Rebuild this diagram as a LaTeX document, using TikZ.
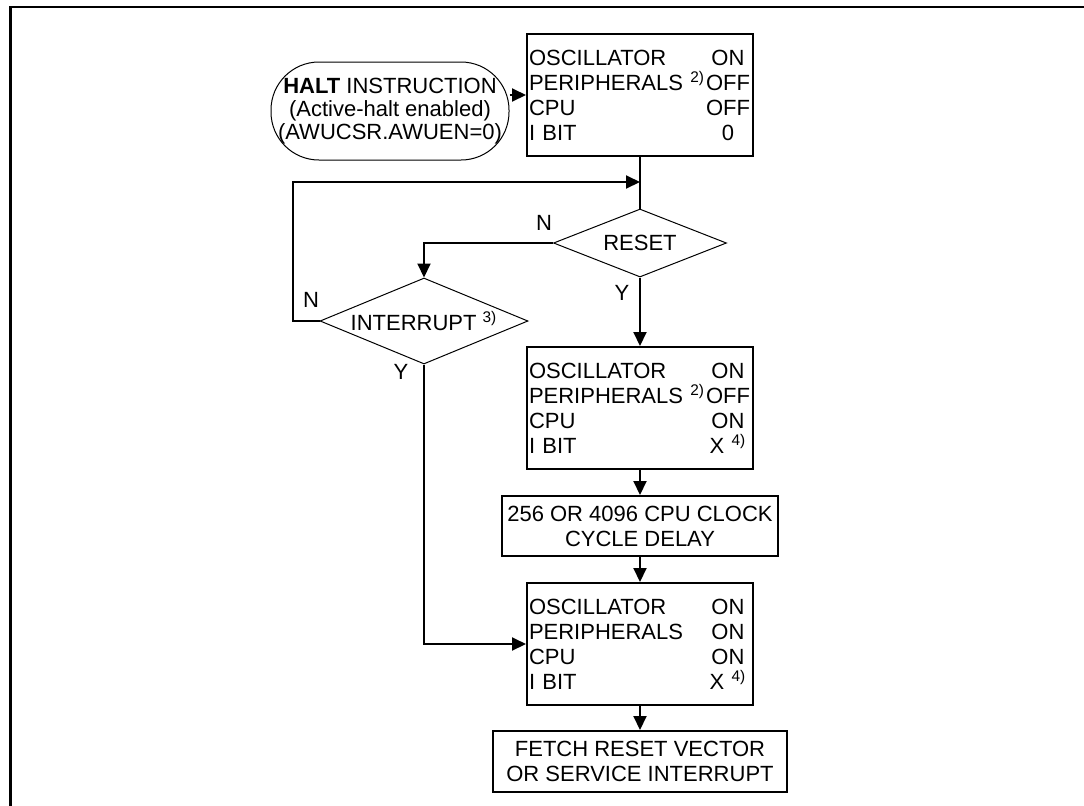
\documentclass[tikz,border=0pt]{standalone}
\usepackage{fontspec}
\setmainfont{Liberation Sans}
\usetikzlibrary{shapes.geometric,arrows.meta}
\newcommand{\staterow}[2]{\makebox[88pt][l]{#1}\makebox[23pt][c]{#2}}

\begin{document}
\begin{tikzpicture}[x=5pt,y=-5pt,>={Triangle[length=7pt,width=6.5pt]},
    font=\fontsize{11}{12.5}\selectfont,
    statebox/.style={rectangle,draw,line width=1pt,minimum width=113pt,minimum height=61pt,text width=111pt,inner xsep=1pt,align=left},
    textbox/.style={rectangle,draw,line width=1pt,align=center,inner sep=1pt},
    decision/.style={diamond,draw,line width=0.5pt,inner sep=0pt},
    flow/.style={line width=1pt}]
    \useasboundingbox (0,0) rectangle (108.4,80.5);
    \draw[line width=1.4pt] (108.8,0.7) -- (1.03,0.7) -- (1.03,80.8);
    \node (halt) at (39.0,11.1) [rectangle,draw,line width=0.5pt,rounded corners=24pt,minimum width=119pt,minimum height=49pt,inner sep=0pt,align=center,font=\fontsize{11}{11.5}\selectfont] {\textbf{HALT} INSTRUCTION\\(Active-halt enabled)\\(AWUCSR.AWUEN=0)};
    \node (box1) at (64.0,9.5) [statebox] {\staterow{OSCILLATOR}{ON}\\\staterow{PERIPHERALS \textsuperscript{2)}}{OFF}\\\staterow{CPU}{OFF}\\\staterow{I BIT}{0}};
    \node (reset) at (64.0,24.3) [decision,minimum width=86.5pt,minimum height=34pt,aspect=2.54] {RESET};
    \node (interrupt) at (42.4,32.1) [decision,minimum width=104pt,minimum height=43pt,aspect=2.42] {INTERRUPT \textsuperscript{3)}};
    \node (box2) at (64.0,40.8) [statebox] {\staterow{OSCILLATOR}{ON}\\\staterow{PERIPHERALS \textsuperscript{2)}}{OFF}\\\staterow{CPU}{ON}\\\staterow{I BIT}{X \textsuperscript{4)}}};
    \node (delay) at (64.0,52.6) [textbox,minimum width=138pt,minimum height=30pt] {256 OR 4096 CPU CLOCK\\CYCLE DELAY};
    \node (box3) at (64.0,64.4) [statebox] {\staterow{OSCILLATOR}{ON}\\\staterow{PERIPHERALS}{ON}\\\staterow{CPU}{ON}\\\staterow{I BIT}{X \textsuperscript{4)}}};
    \node (fetch) at (64.0,76.15) [textbox,minimum width=147pt,minimum height=30.5pt] {FETCH RESET VECTOR\\OR SERVICE INTERRUPT};
    \coordinate (merge) at (64.0,18.2);
    \node (resetno) at (54.4,22.3) {N};
    \node (resetyes) at (62.2,29.3) {Y};
    \node (intno) at (31.1,30.0) {N};
    \node (intyes) at (40.1,37.2) {Y};
    \draw[flow,->] (halt.east |- box1.west) -- (box1.west);
    \draw[flow]    (box1) -- (reset);
    \draw[flow,->] (reset.west) -| (interrupt.north);
    \draw[flow,->] (reset) -- (box2);
    \draw[flow,->] (interrupt.west) -- ++(-2.7,0) |- (merge);
    \draw[flow,->] (interrupt.south) |- (box3.west);
    \draw[flow,->] (box2) -- (delay);
    \draw[flow,->] (delay) -- (box3);
    \draw[flow,->] (box3) -- (fetch);
\end{tikzpicture}
\end{document}
